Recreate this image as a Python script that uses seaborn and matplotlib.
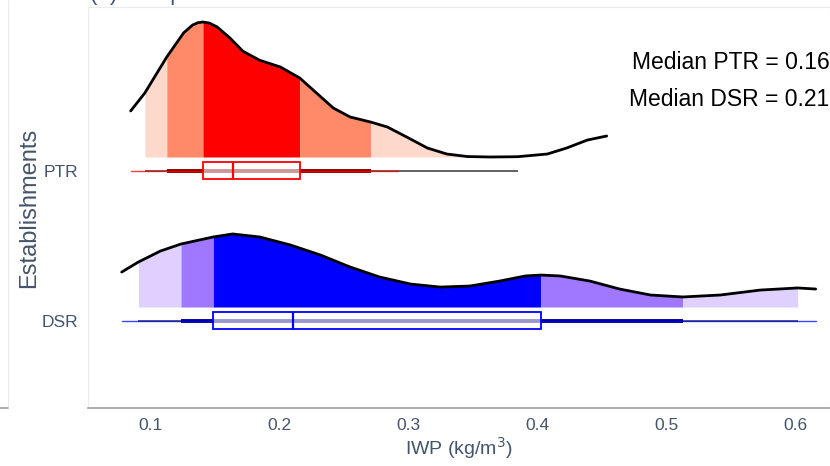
import numpy as np
import pandas as pd
import seaborn as sns
import matplotlib.pyplot as plt
from matplotlib.lines import Line2D

# density curves (IWP, ridge height in category units)
ptr_x = [0.085, 0.096, 0.113, 0.126, 0.133, 0.137, 0.141, 0.146, 0.152, 0.162,
         0.172, 0.185, 0.201, 0.216, 0.229, 0.242, 0.255, 0.271, 0.284, 0.299,
         0.315, 0.330, 0.346, 0.364, 0.385, 0.408, 0.423, 0.439, 0.454]
ptr_d = [0.307, 0.427, 0.667, 0.827, 0.880, 0.895, 0.900, 0.893, 0.867, 0.793,
         0.705, 0.645, 0.600, 0.527, 0.427, 0.327, 0.267, 0.233, 0.200, 0.133,
         0.060, 0.020, 0.003, 0.000, 0.002, 0.020, 0.060, 0.113, 0.140]

dsr_x = [0.078, 0.091, 0.108, 0.124, 0.149, 0.164, 0.185, 0.209, 0.232, 0.255,
         0.278, 0.302, 0.325, 0.348, 0.371, 0.391, 0.403, 0.418, 0.441, 0.464,
         0.488, 0.513, 0.542, 0.573, 0.602, 0.616]
dsr_d = [0.233, 0.300, 0.373, 0.420, 0.467, 0.487, 0.467, 0.413, 0.347, 0.267,
         0.200, 0.153, 0.133, 0.140, 0.173, 0.207, 0.213, 0.207, 0.173, 0.120,
         0.080, 0.067, 0.080, 0.113, 0.127, 0.120]

groups = ['DSR', 'PTR']
# summary stats: whiskers, quartiles, median and the two intervals
whis_lo = [0.078, 0.085]
whis_hi = [0.616, 0.292]
q1 = [0.149, 0.141]
med = [0.211, 0.164]
q3 = [0.403, 0.216]
thick_lo = [0.124, 0.113]
thick_hi = [0.513, 0.271]
thin_lo = [0.091, 0.096]
thin_hi = [0.602, 0.385]

medians_text = ['Median PTR = 0.16', 'Median DSR = 0.21']

line_col = ['#0000FF', '#FF0000']
dark_col = ['#000088', '#880000']
shade_cols = [['#E0D0FF', '#A078FF', '#0000FF'],
              ['#FFD8CC', '#FF8A69', '#FF0000']]

curves = {'DSR': (dsr_x, dsr_d), 'PTR': (ptr_x, ptr_d)}

sns.set_style('white')
plt.rcParams['font.family'] = ['Liberation Sans', 'DejaVu Sans']
txt = '#44546A'

fig = plt.figure(figsize=(8.3, 4.66), dpi=100)
ax = fig.add_axes([0.106, 0.1245, 0.894, 0.8605])

base_off = 0.093
for i, g in enumerate(groups):
    x = np.array(curves[g][0])
    d = np.array(curves[g][1])
    base = i + base_off
    light, mid, dark = shade_cols[i]
    bands = [(thin_lo[i], thick_lo[i], light), (thick_lo[i], q1[i], mid),
             (q1[i], q3[i], dark), (q3[i], thick_hi[i], mid),
             (thick_hi[i], thin_hi[i], light)]
    for lo, hi, c in bands:
        m = (x >= lo - 1e-9) & (x <= hi + 1e-9)
        ax.fill_between(x[m], base, base + d[m], color=c, lw=0, zorder=1)
    df = pd.DataFrame({'IWP': x, 'y': base + d})
    sns.lineplot(data=df, x='IWP', y='y', color='black', lw=2, ax=ax, zorder=3)

    # interval lines
    ax.plot([thin_lo[i], thin_hi[i]], [i, i], color='#555555', lw=1.3, zorder=4,
            solid_capstyle='butt')
    ax.plot([thick_lo[i], thick_hi[i]], [i, i], color=dark_col[i], lw=2.8, zorder=4,
            solid_capstyle='butt')

for i, g in enumerate(groups):
    st = dict(med=med[i], q1=q1[i], q3=q3[i], whislo=whis_lo[i],
              whishi=whis_hi[i], fliers=[], label=g)
    ax.bxp([st], positions=[i], widths=0.113, vert=False, showcaps=False,
           patch_artist=True, manage_ticks=False,
           boxprops=dict(facecolor=(1, 1, 1, 0.6), edgecolor=line_col[i], lw=1.3),
           medianprops=dict(color=line_col[i], lw=1.6),
           whiskerprops=dict(color=line_col[i], lw=1, alpha=0.75),
           zorder=5)

ax.set_xlim(0.0519, 0.6271)
ax.set_ylim(-0.58, 2.093)
ax.set_xticks([0.1, 0.2, 0.3, 0.4, 0.5, 0.6])
ax.set_xticklabels(['0.1', '0.2', '0.3', '0.4', '0.5', '0.6'], fontsize=12.5)
ax.set_yticks([0, 1])
ax.set_yticklabels(groups, fontsize=12.5)
ax.tick_params(colors=txt, length=3, color='#DDDDDD', pad=4)
ax.set_xlabel('IWP (kg/m$^3$)', fontsize=14, color=txt, labelpad=2)
ax.set_ylabel('Establishments', fontsize=17, color=txt, labelpad=1)

for s in ['left', 'top', 'right']:
    ax.spines[s].set_color('#EBEBEB')
    ax.spines[s].set_linewidth(0.8)
ax.spines['bottom'].set_color('#A0A0A0')
ax.spines['bottom'].set_linewidth(1.2)

ax.text(0.999, 0.862, medians_text[0], transform=ax.transAxes, ha='right',
        va='center', fontsize=16.5, color='black')
ax.text(0.999, 0.770, medians_text[1], transform=ax.transAxes, ha='right',
        va='center', fontsize=16.5, color='black')

# remnants of the neighbouring panel and of the cut-off panel title
fig.add_artist(Line2D([0.0097, 0.0097], [0.1245, 1.0], color='#EBEBEB', lw=0.8))
fig.add_artist(Line2D([0.0, 0.0097], [0.1245, 0.1245], color='#A0A0A0', lw=1.2))
fig.text(0.108, 1.0, '(a) Comparison', fontsize=16, color=txt, va='baseline')

fig.savefig('out.png', dpi=100)
